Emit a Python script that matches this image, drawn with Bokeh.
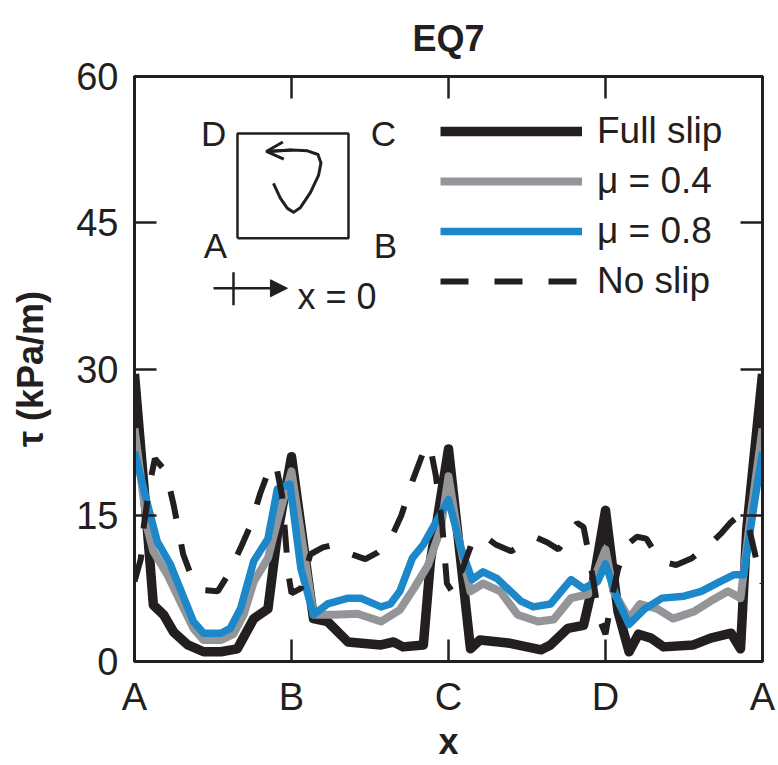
from bokeh.plotting import figure
from bokeh.models import LinearAxis, Legend, LegendItem, Range1d, FixedTicker, Arrow, OpenHead, NormalHead
from bokeh.embed import file_html
from bokeh.resources import INLINE
from bokeh.core.properties import value

FONT = "Liberation Sans"
INK = "#231f20"
GRAY = "#939598"
BLUE = "#1c87c9"

# ---------------- data (position along perimeter: A=0, B=1, C=2, D=3, A=4) -------------
full_x = [0, 0.07, 0.12, 0.185, 0.25, 0.34, 0.44, 0.55, 0.655, 0.76, 0.85, 0.91, 1.0,
          1.14, 1.23, 1.36, 1.57, 1.65, 1.71, 1.84, 1.885, 1.93, 2.0,
          2.14, 2.2, 2.38, 2.59, 2.65, 2.76, 2.86, 2.92, 3.0,
          3.08, 3.15, 3.21, 3.29, 3.37, 3.56, 3.67, 3.8, 3.86, 3.9, 4.0]
full_y = [29.5, 16, 5.8, 4.8, 3.0, 1.7, 1.0, 1.0, 1.3, 4.4, 5.4, 13, 21,
          4.4, 4.1, 2.0, 1.7, 2.0, 1.5, 1.7, 10.3, 14.7, 21.8,
          1.3, 2.2, 1.9, 1.2, 1.7, 3.4, 3.7, 7.9, 15.5,
          5.1, 1.0, 2.8, 2.4, 1.5, 1.7, 2.4, 2.9, 1.3, 13.6, 29.5]

mu04_x = [0, 0.083, 0.12, 0.21, 0.29, 0.375, 0.44, 0.55, 0.63, 0.695, 0.76, 0.85, 0.91, 1.0,
          1.14, 1.27, 1.42, 1.57, 1.69, 1.78, 1.87, 1.95, 2.0,
          2.06, 2.14, 2.22, 2.33, 2.44, 2.57, 2.67, 2.78, 2.89, 3.0,
          3.05, 3.15, 3.22, 3.33, 3.43, 3.56, 3.67, 3.78, 3.86, 3.92, 4.0]
mu04_y = [23.9, 13.6, 11.3, 8.9, 6.2, 3.4, 2.2, 2.2, 2.8, 4.8, 8.2, 10.6, 14.4, 19.5,
          4.8, 4.8, 4.9, 4.1, 5.3, 7.5, 9.9, 13.6, 19.0,
          13.0, 7.2, 8.0, 7.2, 4.8, 4.1, 4.3, 6.5, 6.9, 11.5,
          7.2, 4.4, 5.9, 5.4, 4.4, 5.1, 6.2, 7.2, 6.5, 14.4, 23.9]

mu08_x = [0, 0.083, 0.145, 0.23, 0.29, 0.375, 0.44, 0.55, 0.61, 0.675, 0.76, 0.85, 0.91, 0.99,
          1.06, 1.14, 1.23, 1.36, 1.44, 1.57, 1.63, 1.69, 1.77, 1.84, 2.0,
          2.08, 2.15, 2.22, 2.31, 2.46, 2.54, 2.65, 2.78, 2.86, 2.95, 3.0,
          3.08, 3.15, 3.25, 3.36, 3.5, 3.61, 3.73, 3.82, 3.88, 3.94, 4.0]
mu08_y = [21.5, 16.1, 12.3, 9.9, 7.5, 4.1, 2.9, 2.9, 3.4, 5.4, 10.3, 12.6, 17.7, 18.2,
          9.5, 4.8, 5.9, 6.5, 6.5, 5.6, 5.9, 7.2, 10.6, 12.0, 16.6,
          11.6, 8.4, 9.2, 8.5, 6.2, 5.6, 5.9, 8.4, 7.5, 8.2, 10.0,
          6.2, 3.8, 5.4, 6.5, 6.7, 7.2, 8.2, 8.9, 8.9, 15.4, 21.5]

noslip_x = [0, 0.04, 0.06, 0.1, 0.13, 0.2, 0.25, 0.31, 0.37, 0.45, 0.53, 0.6, 0.68, 0.74,
            0.8, 0.86, 0.9, 0.94, 0.98, 1.0,
            1.06, 1.12, 1.2, 1.28, 1.38, 1.47, 1.55, 1.63, 1.7, 1.77, 1.84, 1.88, 1.92,
            1.96, 1.99, 2.03,
            2.1, 2.15, 2.22, 2.3, 2.4, 2.5, 2.56, 2.63, 2.7, 2.76, 2.82, 2.86, 2.9,
            2.94, 2.97, 3.0,
            3.04, 3.08, 3.14, 3.2, 3.26, 3.35, 3.45, 3.55, 3.65, 3.74, 3.8, 3.86,
            3.91, 3.96, 4.0]
noslip_y = [8.2, 10.5, 14, 18.5, 20.8, 19.5, 16, 11, 8.4, 7.3, 7.2, 9, 11.8, 14,
            17.2, 19.8, 20.3, 17, 9, 7,
            7.5, 11, 11.7, 12, 11, 10.5, 11.2, 12.5, 15, 18.5, 21.5, 22.3, 19,
            14, 8, 7,
            10, 12.2, 13, 12, 11.3, 12.3, 12.7, 12.2, 11.5, 12.8, 14.2, 13.8, 10.5,
            6.5, 4, 2.8,
            6.5, 9.5, 12, 12.8, 12.6, 10.3, 9.9, 10.6, 11.8, 13.2, 14.3, 15.1,
            14, 10.5, 8]

x_ticks = [0, 1, 2, 3, 4]
x_tick_labels = ["A", "B", "C", "D", "A"]
y_ticks = [0, 15, 30, 45, 60]

# --------------- inset schematic (local unit-square coordinates) ---------------
INSET_X0, INSET_W = 0.656, 0.707
INSET_Y0, INSET_H = 43.4, 10.75
def IX(u):
    return [INSET_X0 + a * INSET_W for a in u]
def IY(v):
    return [INSET_Y0 + a * INSET_H for a in v]

sq_u = [0, 1, 1, 0, 0]
sq_v = [0, 0, 1, 1, 0]
path_u = [0.324, 0.387, 0.45, 0.505, 0.568, 0.658, 0.73, 0.752, 0.725, 0.63, 0.49, 0.26]
path_v = [0.524, 0.381, 0.286, 0.248, 0.295, 0.438, 0.6, 0.72, 0.8, 0.835, 0.842, 0.829]
corner_txt = ["D", "C", "A", "B"]
corner_u = [-0.216, 1.315, -0.198, 1.333]
corner_v = [1.0, 1.0, -0.067, -0.067]

# ---------------- figure ----------------
p = figure(width=778, height=765, output_backend="svg", toolbar_location=None,
           x_range=Range1d(0, 4), y_range=Range1d(0, 60),
           min_border_left=134, min_border_right=16, min_border_top=76, min_border_bottom=104)
p.xgrid.visible = False
p.ygrid.visible = False
p.outline_line_color = INK
p.outline_line_width = 3
p.background_fill_color = "white"
p.border_fill_color = "white"

p.title.text = "EQ7"
p.title.align = "center"
p.title.text_font = FONT
p.title.text_font_size = "36px"
p.title.text_font_style = "bold"
p.title.text_color = INK
p.title.vertical_align = "top"
p.title.standoff = 31

bottom = p.below[0]
left = p.left[0]
top = LinearAxis()
right = LinearAxis()
p.add_layout(top, "above")
p.add_layout(right, "right")

bottom.ticker = FixedTicker(ticks=x_ticks)
bottom.major_label_overrides = {t: s for t, s in zip(x_ticks, x_tick_labels)}
left.ticker = FixedTicker(ticks=y_ticks)
# mirror axes: only inward ticks, no labels (ticks drawn as minor ticks)
top.ticker = FixedTicker(ticks=[], minor_ticks=x_ticks)
right.ticker = FixedTicker(ticks=[], minor_ticks=y_ticks)

for ax in [bottom, left, top, right]:
    ax.axis_line_color = INK
    ax.axis_line_width = 3
    ax.major_tick_in = 22
    ax.major_tick_out = 0
    ax.major_tick_line_color = INK
    ax.major_tick_line_width = 2.5
    ax.major_label_text_font = FONT
    ax.major_label_text_font_size = "38px"
    ax.major_label_text_color = INK

for ax in [bottom, left]:
    ax.minor_tick_line_color = None
for ax in [top, right]:
    ax.minor_tick_in = 22
    ax.minor_tick_out = 0
    ax.minor_tick_line_color = INK
    ax.minor_tick_line_width = 2.5
    ax.major_label_standoff = 0

bottom.major_label_standoff = 14
left.major_label_standoff = 16
bottom.axis_label = "x"
left.axis_label = "τ (kPa/m)"
for ax in [bottom, left]:
    ax.axis_label_text_font = FONT
    ax.axis_label_text_font_size = "36px"
    ax.axis_label_text_font_style = "bold"
    ax.axis_label_text_color = INK
bottom.axis_label_standoff = 0
left.axis_label_standoff = 22

# ---------------- curves ----------------
r_full = p.line(full_x, full_y, line_color=INK, line_width=9.5, line_join="round")
r_04 = p.line(mu04_x, mu04_y, line_color=GRAY, line_width=8, line_join="round")
r_08 = p.line(mu08_x, mu08_y, line_color=BLUE, line_width=7.5, line_join="round")
r_ns = p.line(noslip_x, noslip_y, line_color=INK, line_width=6, line_dash="28 26")

legend = Legend(items=[LegendItem(label="Full slip", renderers=[r_full]),
                       LegendItem(label="μ = 0.4", renderers=[r_04]),
                       LegendItem(label="μ = 0.8", renderers=[r_08]),
                       LegendItem(label="No slip", renderers=[r_ns])],
                location=(306, 355), background_fill_alpha=0, border_line_color=None,
                padding=0, margin=0, spacing=0, glyph_width=142, glyph_height=50,
                label_height=50, label_standoff=15, label_text_font=FONT,
                label_text_font_size="37px", label_text_color=INK)
p.add_layout(legend)

# ---------------- inset ----------------
p.line(IX(sq_u), IY(sq_v), line_color=INK, line_width=2.5)
p.line(IX(path_u), IY(path_v), line_color=INK, line_width=3, line_join="round")
ax0, ay0 = IX([path_u[-2]])[0], IY([path_v[-2]])[0]
ax1, ay1 = IX([path_u[-1]])[0], IY([path_v[-1]])[0]
p.add_layout(Arrow(end=OpenHead(size=17, line_width=3, line_color=INK),
                   x_start=ax0, y_start=ay0, x_end=ax1, y_end=ay1,
                   line_width=3, line_color=INK))
p.text(x=IX(corner_u), y=IY(corner_v), text=corner_txt, text_font=value(FONT),
       text_font_size="35px", text_align="center", text_baseline="middle", text_color=INK)

arr_u = [-0.216, 0.45]
arr_v = [-0.476, -0.476]
p.add_layout(Arrow(end=NormalHead(size=17, fill_color=INK, line_color=INK),
                   x_start=IX(arr_u)[0], y_start=IY(arr_v)[0],
                   x_end=IX(arr_u)[1], y_end=IY(arr_v)[1],
                   line_width=2.5, line_color=INK))
p.line(IX([-0.036, -0.036]), IY([-0.324, -0.638]), line_color=INK, line_width=2.5)
p.text(x=IX([0.54]), y=IY([-0.552]), text=["x = 0"], text_font=value(FONT),
       text_font_size="36px", text_align="left", text_baseline="middle", text_color=INK)

open("out.html", "w").write(file_html(p, INLINE))
